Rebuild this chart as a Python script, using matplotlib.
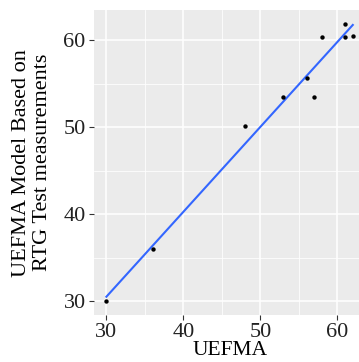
import matplotlib
matplotlib.use("Agg")
import matplotlib.pyplot as plt
import numpy as np

uefma = [30, 36, 48, 53, 56, 57, 58, 61, 61, 62]
model = [30.0, 36.0, 50.1, 53.4, 55.6, 53.5, 60.4, 61.8, 60.4, 60.5]
x_ticks = [30, 40, 50, 60]
y_ticks = [30, 40, 50, 60]

plt.rcParams['font.family'] = ['Liberation Serif', 'DejaVu Serif']

fig = plt.figure(figsize=(3.59, 3.62), dpi=100)
ax = fig.add_axes([0.262, 0.130, 0.755, 0.841])
ax.set_facecolor('#EBEBEB')
for s in ax.spines.values():
    s.set_visible(False)

ax.set_xlim(28.4, 63.6)
ax.set_ylim(28.4, 63.4)
ax.set_xticks(x_ticks)
ax.set_yticks(y_ticks)
ax.set_xticks([35, 45, 55], minor=True)
ax.set_yticks([35, 45, 55], minor=True)
ax.grid(which='major', color='white', linewidth=1.1)
ax.grid(which='minor', color='white', linewidth=0.55)
ax.set_axisbelow(True)
ax.tick_params(which='major', length=3.5, width=0.8, color='#333333',
               labelsize=16, labelcolor='#222222', pad=2.5)
ax.tick_params(which='minor', length=0)

x = np.array(uefma, dtype=float)
y = np.array(model, dtype=float)
slope, intercept = np.polyfit(x, y, 1)
xs = np.linspace(x.min(), x.max(), 50)
ax.plot(xs, slope * xs + intercept, color='#3366FF', linewidth=1.5, zorder=2)
ax.scatter(x, y, s=10, color='black', zorder=3, linewidths=0)

ax.set_xlabel('UEFMA', fontsize=15.5, labelpad=-1)
ax.set_ylabel('UEFMA Model Based on\nRTG Test measurements', fontsize=16,
              labelpad=8, linespacing=1.2)

fig.savefig('out.png', dpi=100)
